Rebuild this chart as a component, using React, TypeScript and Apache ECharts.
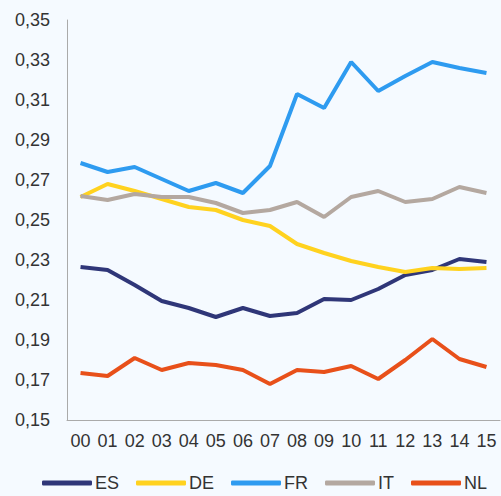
import React, { useEffect, useRef } from "react";
import * as echarts from "echarts";

const categories = ["00","01","02","03","04","05","06","07","08","09","10","11","12","13","14","15"];
const ES = [0.2265,0.225,0.2175,0.2095,0.206,0.2015,0.206,0.202,0.2035,0.2105,0.21,0.2155,0.2225,0.225,0.2305,0.229];
const DE = [0.2615,0.268,0.2645,0.2605,0.2565,0.255,0.25,0.247,0.238,0.2335,0.2295,0.2265,0.224,0.226,0.2255,0.226];
const FR = [0.2785,0.274,0.2765,0.2705,0.2645,0.2685,0.2635,0.277,0.313,0.306,0.329,0.3145,0.322,0.329,0.326,0.3235];
const IT = [0.262,0.26,0.263,0.2615,0.2615,0.2585,0.2535,0.255,0.259,0.2515,0.2615,0.2645,0.259,0.2605,0.2665,0.2635];
const NL = [0.1735,0.172,0.181,0.175,0.1785,0.1775,0.175,0.168,0.175,0.174,0.177,0.1705,0.180,0.1905,0.1805,0.1765];

const seriesNames = ["ES","DE","FR","IT","NL"];
const seriesData = [ES, DE, FR, IT, NL];
const colors = ["#2f3678","#ffd21f","#2e9bf0","#b4a8a0","#e8501a"];

export default function App() {
  const ref = useRef<HTMLDivElement>(null);
  useEffect(() => {
    const chart = echarts.init(ref.current!, null, { renderer: "svg" });
    chart.setOption({
      animation: false,
      backgroundColor: "#f5faff",
      textStyle: { fontFamily: "Liberation Sans" },
      grid: { left: 67, right: 1, top: 20, bottom: 76, containLabel: false },
      legend: {
        top: 474,
        left: 42,
        padding: 0,
        icon: "roundRect",
        itemWidth: 50,
        itemHeight: 5,
        itemGap: 17,
        textStyle: { fontSize: 18, color: "#333", fontFamily: "Liberation Sans", padding: [0, 0, 0, -2] },
        data: seriesNames,
      },
      xAxis: {
        type: "category",
        data: categories,
        boundaryGap: true,
        axisLine: { show: true, lineStyle: { color: "#aaa", width: 1 } },
        axisTick: { show: false },
        axisLabel: { fontSize: 18, color: "#333", margin: 12, interval: 0 },
      },
      yAxis: {
        type: "value",
        min: 0.15,
        max: 0.35,
        interval: 0.02,
        axisLine: { show: true, lineStyle: { color: "#aaa", width: 1 } },
        axisTick: { show: false },
        splitLine: { show: false },
        axisLabel: {
          fontSize: 18,
          color: "#333",
          margin: 17,
          formatter: (v: number) => v.toFixed(2).replace(".", ","),
        },
      },
      series: seriesNames.map((name, i) => ({
        name,
        type: "line",
        data: seriesData[i],
        symbol: "none",
        color: colors[i],
        lineStyle: { width: 4, color: colors[i] },
      })),
    });
    return () => chart.dispose();
  }, []);
  return <div ref={ref} style={{ position: "fixed", left: 0, top: 0, width: 501, height: 496 }} />;
}
